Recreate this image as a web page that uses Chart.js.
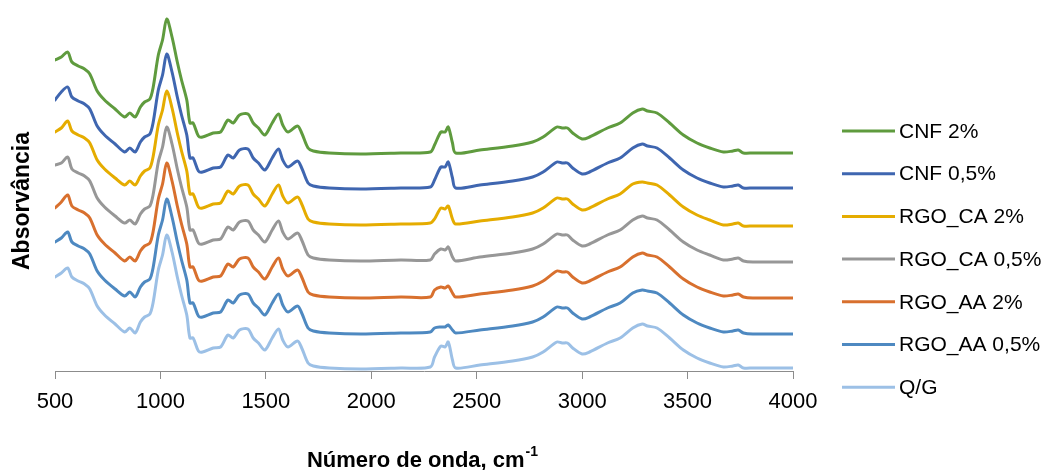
<!DOCTYPE html>
<html lang="pt">
<head>
<meta charset="utf-8">
<title>FTIR</title>
<script src="https://cdn.jsdelivr.net/npm/chart.js@4/dist/chart.umd.min.js"></script>
<style>
  html, body { margin: 0; padding: 0; background: #ffffff; }
  #wrap { width: 1053px; height: 470px; }
  canvas { display: block; }
</style>
</head>
<body>
<div id="wrap"><canvas id="ftir" width="1053" height="470"></canvas></div>
<script>
// Wavenumbers (cm-1) shared by all spectra
const wavenumbers = [500, 530, 560, 580, 610, 640, 665, 700, 735, 785, 830, 855, 880, 905, 925, 950, 965, 990, 1010, 1030,
  1055, 1080, 1100, 1125, 1140, 1155, 1180, 1200, 1250, 1285, 1320, 1345, 1375, 1415, 1440, 1465, 1495, 1530, 1560, 1580,
  1605, 1650, 1670, 1700, 1725, 1800, 1950, 2140, 2280, 2300, 2330, 2350, 2365, 2385, 2400, 2515, 2670, 2765, 2815, 2880,
  2905, 2930, 2955, 3000, 3035, 3120, 3180, 3240, 3285, 3310, 3355, 3415, 3480, 3545, 3605, 3670, 3715, 3740, 3765, 3810, 4000];

// Stacked absorbance traces (vertically offset)
const cnf2 = [31.1, 31.4, 31.9, 30.9, 30.5, 30.2, 29.7, 28.0, 27.1, 26.2, 25.4, 25.8, 25.4, 26.4, 26.9, 27.2, 28.3, 31.6, 33.1, 35.2,
  33.4, 30.9, 29.1, 27.1, 24.8, 24.8, 23.5, 23.4, 23.8, 23.9, 25.1, 24.8, 25.6, 25.7, 24.8, 24.3, 23.6, 24.8, 25.7, 24.6,
  23.9, 24.5, 23.8, 22.3, 22.0, 21.8, 21.7, 21.8, 21.9, 22.6, 23.9, 23.9, 24.4, 22.8, 21.8, 22.1, 22.5, 22.9, 23.4, 24.4,
  24.3, 24.3, 23.8, 23.2, 23.4, 24.3, 24.8, 25.8, 26.2, 26.0, 25.8, 24.8, 23.6, 22.8, 22.3, 21.9, 22.0, 22.1, 21.8, 21.8, 21.8];

const cnf05 = [27.1, 27.9, 28.4, 27.4, 27.0, 26.7, 26.2, 24.5, 23.6, 22.7, 21.9, 22.3, 21.9, 22.9, 23.4, 23.7, 24.8, 28.1, 29.6, 31.7,
  29.9, 27.4, 25.6, 23.6, 21.3, 21.3, 20.0, 19.9, 20.3, 20.4, 21.6, 21.3, 22.1, 22.2, 21.3, 20.8, 20.1, 21.3, 22.2, 21.1,
  20.4, 21.0, 20.3, 18.8, 18.5, 18.3, 18.2, 18.3, 18.4, 19.1, 20.4, 20.4, 20.9, 19.3, 18.3, 18.6, 19.0, 19.4, 19.9, 20.9,
  20.8, 20.8, 20.3, 19.7, 19.9, 20.8, 21.3, 22.3, 22.7, 22.5, 22.3, 21.3, 20.1, 19.3, 18.8, 18.4, 18.5, 18.6, 18.3, 18.3, 18.3];

const rgoCa2 = [23.9, 24.3, 25.0, 24.0, 23.6, 23.3, 22.8, 21.1, 20.2, 19.3, 18.6, 19.0, 18.6, 19.5, 20.0, 20.3, 21.4, 24.6, 26.1, 28.0,
  26.3, 23.8, 22.0, 20.0, 17.7, 17.7, 16.4, 16.3, 16.7, 16.8, 18.0, 17.7, 18.5, 18.6, 17.7, 17.2, 16.5, 17.7, 18.6, 17.5,
  16.8, 17.4, 16.7, 15.2, 14.9, 14.7, 14.6, 14.7, 14.8, 15.2, 16.3, 16.2, 16.5, 15.2, 14.7, 15.0, 15.4, 15.8, 16.3, 17.3,
  17.2, 17.2, 16.7, 16.1, 16.3, 17.2, 17.7, 18.7, 18.9, 18.8, 18.6, 17.6, 16.4, 15.6, 15.1, 14.6, 14.7, 14.8, 14.5, 14.5, 14.5];

const rgoCa05 = [20.6, 20.8, 21.4, 20.2, 19.8, 19.5, 19.0, 17.3, 16.4, 15.5, 14.8, 15.1, 14.7, 15.7, 16.2, 16.5, 17.6, 20.9, 22.4, 24.4,
  22.7, 20.2, 18.4, 16.4, 14.1, 14.1, 12.8, 12.7, 13.1, 13.2, 14.4, 14.1, 14.9, 15.0, 14.1, 13.6, 12.9, 14.1, 15.0, 13.9,
  13.2, 13.8, 13.1, 11.6, 11.3, 11.1, 11.0, 11.1, 11.1, 11.7, 12.2, 12.1, 12.4, 11.4, 11.0, 11.4, 11.8, 12.2, 12.7, 13.7,
  13.6, 13.6, 13.1, 12.5, 12.7, 13.6, 14.1, 15.1, 15.5, 15.3, 15.1, 14.1, 12.9, 12.1, 11.6, 11.1, 11.2, 11.3, 11.0, 10.9, 10.9];

const rgoAa2 = [16.3, 16.9, 17.6, 16.5, 16.1, 15.8, 15.3, 13.6, 12.7, 11.8, 11.0, 11.4, 11.0, 12.0, 12.5, 12.8, 13.9, 17.2, 18.7, 20.8,
  19.0, 16.5, 14.7, 12.7, 10.4, 10.4, 9.1, 9.0, 9.4, 9.5, 10.7, 10.4, 11.2, 11.3, 10.4, 9.9, 9.2, 10.4, 11.3, 10.2,
  9.5, 10.1, 9.4, 7.9, 7.6, 7.4, 7.3, 7.4, 7.4, 8.1, 8.4, 8.3, 8.5, 7.8, 7.4, 7.7, 8.1, 8.5, 9.0, 10.0,
  9.9, 9.9, 9.4, 8.8, 9.0, 9.9, 10.4, 11.4, 11.8, 11.6, 11.4, 10.4, 9.2, 8.4, 7.9, 7.5, 7.6, 7.7, 7.4, 7.3, 7.3];

const rgoAa05 = [12.9, 13.3, 13.9, 12.9, 12.5, 12.2, 11.7, 10.0, 9.1, 8.2, 7.5, 7.9, 7.4, 8.4, 8.9, 9.2, 10.3, 13.6, 15.1, 17.2,
  15.4, 12.9, 11.1, 9.1, 6.8, 6.8, 5.5, 5.4, 5.8, 5.9, 7.1, 6.8, 7.6, 7.7, 6.8, 6.3, 5.6, 6.8, 7.7, 6.6,
  5.9, 6.5, 5.8, 4.3, 4.0, 3.8, 3.7, 3.8, 3.9, 4.3, 4.4, 4.4, 4.6, 4.1, 3.8, 4.1, 4.5, 4.9, 5.4, 6.4,
  6.3, 6.3, 5.8, 5.2, 5.4, 6.3, 6.8, 7.8, 8.1, 8.0, 7.8, 6.8, 5.6, 4.8, 4.3, 3.9, 4.0, 4.1, 3.8, 3.7, 3.7];

const qg = [9.4, 9.8, 10.3, 9.4, 9.0, 8.7, 8.2, 6.5, 5.6, 4.7, 3.9, 4.3, 3.8, 4.9, 5.4, 5.7, 6.8, 10.1, 11.6, 13.6,
  11.9, 9.4, 7.6, 5.6, 3.3, 3.3, 2.0, 1.9, 2.3, 2.4, 3.6, 3.3, 4.1, 4.2, 3.3, 2.8, 2.1, 3.3, 4.2, 3.1,
  2.4, 3.0, 2.3, 0.8, 0.5, 0.3, 0.2, 0.3, 0.4, 1.4, 2.5, 2.4, 2.9, 1.1, 0.3, 0.6, 1.0, 1.4, 1.9, 2.9,
  2.8, 2.8, 2.3, 1.7, 1.9, 2.8, 3.3, 4.3, 4.7, 4.5, 4.3, 3.3, 2.1, 1.3, 0.8, 0.4, 0.5, 0.6, 0.3, 0.3, 0.3];

const seriesNames = ['CNF 2%', 'CNF 0,5%', 'RGO_CA 2%', 'RGO_CA 0,5%', 'RGO_AA 2%', 'RGO_AA 0,5%', 'Q/G'];
const seriesValues = [cnf2, cnf05, rgoCa2, rgoCa05, rgoAa2, rgoAa05, qg];
const seriesColors = ['#5F9B3E', '#3F66B0', '#E5AC00', '#979797', '#D8702E', '#4E89C1', '#9CC0E6'];

const xTicks = [500, 1000, 1500, 2000, 2500, 3000, 3500, 4000];
const xTitle = 'Número de onda, cm';
const xTitleSup = '-1';
const yTitle = 'Absorvância';

const FONT = '"Liberation Sans", Arial, sans-serif';

// Axis titles and the right-hand legend
const decorations = {
  id: 'decorations',
  afterDraw(chart) {
    const { ctx, chartArea } = chart;
    ctx.save();
    ctx.fillStyle = '#000000';

    // y title, rotated
    ctx.font = 'bold 23px ' + FONT;
    ctx.textAlign = 'center';
    ctx.textBaseline = 'middle';
    ctx.translate(23, 201);
    ctx.rotate(-Math.PI / 2);
    ctx.fillText(yTitle, 0, 0);
    ctx.setTransform(1, 0, 0, 1, 0, 0);

    // x title with superscript
    const cx = (chartArea.left + chartArea.right) / 2 - 2;
    ctx.font = 'bold 22px ' + FONT;
    const mainW = ctx.measureText(xTitle).width;
    ctx.font = 'bold 14px ' + FONT;
    const supW = ctx.measureText(xTitleSup).width;
    const startX = cx - (mainW + supW) / 2;
    ctx.textAlign = 'left';
    ctx.textBaseline = 'alphabetic';
    ctx.font = 'bold 22px ' + FONT;
    ctx.fillText(xTitle, startX, 467);
    ctx.font = 'bold 14px ' + FONT;
    ctx.fillText(xTitleSup, startX + mainW + 1, 456);

    // legend
    const lx0 = chartArea.right + 49;
    const lx1 = chartArea.right + 102;
    const tx = chartArea.right + 106;
    ctx.font = '21px ' + FONT;
    ctx.textBaseline = 'middle';
    chart.data.datasets.forEach((ds, i) => {
      const y = 131 + i * 42.7;
      ctx.strokeStyle = ds.borderColor;
      ctx.lineWidth = 3;
      ctx.lineCap = 'butt';
      ctx.beginPath();
      ctx.moveTo(lx0, y);
      ctx.lineTo(lx1, y);
      ctx.stroke();
      ctx.fillStyle = '#000000';
      ctx.fillText(ds.label, tx, y + 1);
    });
    ctx.restore();
  }
};

new Chart(document.getElementById('ftir'), {
  type: 'line',
  data: {
    labels: wavenumbers,
    datasets: seriesNames.map((name, i) => ({
      label: name,
      data: seriesValues[i],
      borderColor: seriesColors[i],
      backgroundColor: seriesColors[i],
      borderWidth: 3,
      pointRadius: 0,
      fill: false,
      tension: 0.3,
      borderJoinStyle: 'round',
      borderCapStyle: 'round'
    }))
  },
  options: {
    responsive: false,
    devicePixelRatio: 1,
    animation: false,
    layout: { padding: { top: 11, right: 260, bottom: 0, left: 0 } },
    plugins: { legend: { display: false }, tooltip: { enabled: false } },
    scales: {
      x: {
        type: 'linear',
        min: 500,
        max: 4000,
        afterBuildTicks(scale) { scale.ticks = xTicks.map(v => ({ value: v })); },
        afterFit(scale) { scale.height = 99; },
        ticks: {
          color: '#000000',
          font: { family: FONT, size: 22 },
          padding: 10,
          maxRotation: 0,
          autoSkip: false,
          callback: (v) => String(v)
        },
        grid: { drawOnChartArea: false, drawTicks: true, tickLength: 8, color: '#8C8C8C', lineWidth: 1 },
        border: { display: true, color: '#8C8C8C', width: 1 }
      },
      y: {
        min: 0,
        max: 36,
        afterFit(scale) { scale.width = 55; },
        ticks: { display: false },
        grid: { display: false },
        border: { display: false }
      }
    }
  },
  plugins: [decorations]
});
</script>
</body>
</html>
